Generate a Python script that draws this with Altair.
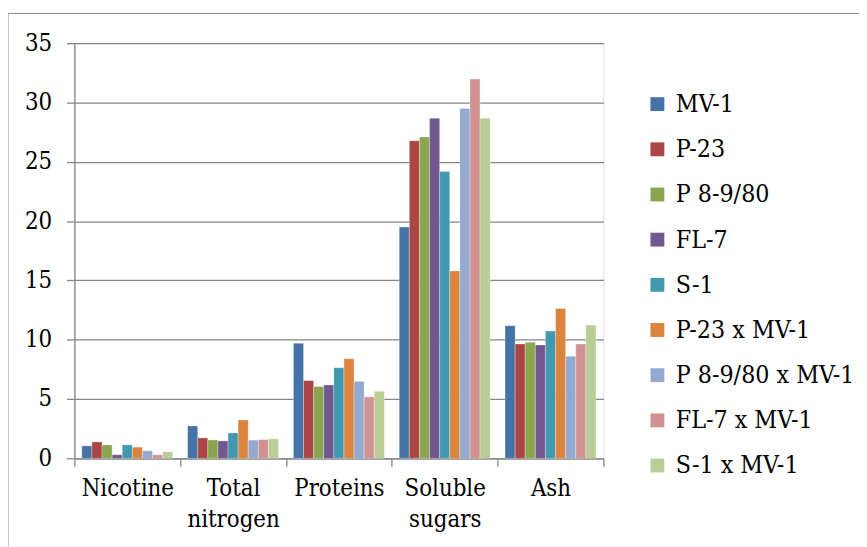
import altair as alt
import pandas as pd

categories = ["Nicotine", "Total nitrogen", "Proteins", "Soluble sugars", "Ash"]
series = ["MV-1", "P-23", "P 8-9/80", "FL-7", "S-1",
          "P-23 x MV-1", "P 8-9/80 x MV-1", "FL-7 x MV-1", "S-1 x MV-1"]

mv1 = [1.05, 2.73, 9.70, 19.50, 11.18]
p23 = [1.38, 1.72, 6.55, 26.78, 9.64]
p8980 = [1.12, 1.55, 6.05, 27.09, 9.78]
fl7 = [0.30, 1.47, 6.18, 28.68, 9.56]
s1 = [1.13, 2.14, 7.64, 24.19, 10.73]
p23_mv1 = [0.94, 3.23, 8.39, 15.80, 12.63]
p8980_mv1 = [0.63, 1.53, 6.49, 29.49, 8.61]
fl7_mv1 = [0.30, 1.58, 5.18, 31.98, 9.64]
s1_mv1 = [0.55, 1.64, 5.65, 28.68, 11.23]

colors = ["#4572A7", "#AA4643", "#89A54E", "#71588F", "#4198AF",
          "#DB843D", "#93A9CF", "#D19392", "#B9CD96"]

all_values = [mv1, p23, p8980, fl7, s1, p23_mv1, p8980_mv1, fl7_mv1, s1_mv1]
rows = []
for s, vals in zip(series, all_values):
    for c, v in zip(categories, vals):
        rows.append({"category": c, "series": s, "value": v})
df = pd.DataFrame(rows)

GRAY = "#868686"
FONT = "DejaVu Serif Condensed, DejaVu Serif, serif"

bars = alt.Chart(df).mark_bar(stroke="white", strokeWidth=0.6, strokeOpacity=0.5).encode(
    x=alt.X("category:N", sort=categories,
            scale=alt.Scale(paddingInner=0, paddingOuter=0),
            axis=alt.Axis(title=None, labelAngle=0, tickBand="extent",
                          labelExpr="split(datum.label, ' ')",
                          labelFont=FONT, labelFontSize=24, labelColor="black",
                          labelLineHeight=31, labelPadding=11, tickSize=8,
                          tickColor=GRAY, domainColor=GRAY, domainWidth=1.3,
                          tickWidth=1.3, grid=False)),
    xOffset=alt.XOffset("series:N", sort=series,
                        scale=alt.Scale(paddingOuter=0.735, paddingInner=0)),
    y=alt.Y("value:Q", scale=alt.Scale(domain=[0, 35]),
            axis=alt.Axis(title=None, values=[0, 5, 10, 15, 20, 25, 30, 35],
                          labelFont=FONT, labelFontSize=24, labelColor="black",
                          labelPadding=15, tickSize=8, tickColor=GRAY,
                          tickWidth=1.3, domainColor=GRAY, domainWidth=1.3,
                          grid=True, gridColor=GRAY, gridWidth=1.3)),
    color=alt.Color("series:N", sort=series,
                    scale=alt.Scale(domain=series, range=colors),
                    legend=alt.Legend(title=None, orient="none", legendX=576, legendY=49,
                                      direction="vertical", padding=0,
                                      symbolType="square", symbolSize=196,
                                      symbolStrokeWidth=0, labelFont=FONT,
                                      labelFontSize=25, labelColor="black",
                                      labelOffset=6, rowPadding=19.6, labelLimit=300)),
)

frame_df = pd.DataFrame({"a": [0]})
top_line = alt.Chart(frame_df).mark_rule(color="#888888", strokeWidth=1).encode(
    x=alt.value(-67), x2=alt.value(850), y=alt.value(-30))
left_line = alt.Chart(frame_df).mark_rule(color="#888888", strokeWidth=1).encode(
    x=alt.value(-67), y=alt.value(-30), y2=alt.value(560))

chart = alt.layer(bars, top_line, left_line).properties(
    width=534, height=419,
    autosize=alt.AutoSizeParams(type="none"),
    padding={"left": 67, "top": 33, "right": 258, "bottom": 87},
).configure_view(stroke=None).configure(background="white")

chart.save("out.html", embed_options={"renderer": "svg", "actions": False})
